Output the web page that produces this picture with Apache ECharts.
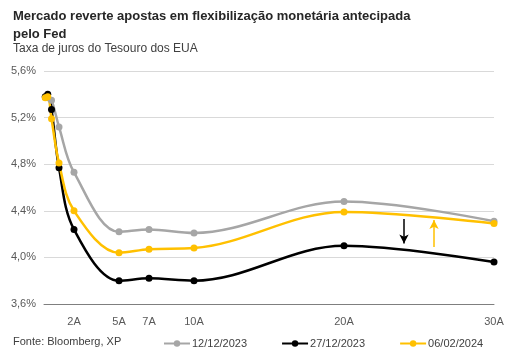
<!DOCTYPE html>
<html><head><meta charset="utf-8">
<script src="https://cdn.jsdelivr.net/npm/echarts@6/dist/echarts.min.js"></script>
<style>html,body{margin:0;padding:0;background:#fff}#c{width:514px;height:355px}</style>
</head><body><div id="c"></div>
<script>
// maturities in years
const maturities = [1/12, 0.25, 0.5, 1, 2, 5, 7, 10, 20, 30];
const s1212 = [5.38, 5.37, 5.35, 5.12, 4.73, 4.22, 4.24, 4.21, 4.48, 4.31];
const s2712 = [5.38, 5.40, 5.27, 4.77, 4.24, 3.80, 3.82, 3.80, 4.10, 3.96];
const s0602 = [5.37, 5.38, 5.19, 4.81, 4.40, 4.04, 4.07, 4.08, 4.39, 4.29];
const xTicks = [2, 5, 7, 10, 20, 30];
const seriesNames = ['12/12/2023', '27/12/2023', '06/02/2024'];
const arrowDown = {x: 24, from: 4.33, to: 4.12};
const arrowUp = {x: 26, from: 4.09, to: 4.32};

const zip = a => maturities.map((m, i) => [m, a[i]]);
const font = 'Arial, "Liberation Sans", sans-serif';
const chart = echarts.init(document.getElementById('c'));
function mk(name, data, color, arrow) {
  const s = {
    name, type: 'line', data: zip(data), smooth: 0.35,
    symbol: 'circle', symbolSize: 7,
    lineStyle: {color, width: 2.5}, itemStyle: {color},
    z: 3
  };
  if (arrow) {
    s.markLine = {
      silent: true, symbol: ['none', 'arrow'], symbolSize: [7, 9],
      label: {show: false},
      lineStyle: {color, width: 1.5, type: 'solid'},
      data: [[{coord: [arrow.x, arrow.from]}, {coord: [arrow.x, arrow.to]}]]
    };
  }
  return s;
}
chart.setOption({
  animation: false,
  textStyle: {fontFamily: font},
  title: [
    {text: 'Mercado reverte apostas em flexibilização monetária antecipada\npelo Fed', left: 8, top: 2,
     textStyle: {fontSize: 13, fontWeight: 'bold', color: '#262626', lineHeight: 18, fontFamily: font}},
    {text: 'Taxa de juros do Tesouro dos EUA', left: 8, top: 38,
     textStyle: {fontSize: 12, fontWeight: 'normal', color: '#404040', fontFamily: font}},
    {text: 'Fonte: Bloomberg, XP', left: 8, top: 331,
     textStyle: {fontSize: 11, fontWeight: 'normal', color: '#404040', fontFamily: font}}
  ],
  legend: {
    data: seriesNames, left: 158, top: 333, itemGap: 34, itemWidth: 26, itemHeight: 8,
    textStyle: {fontSize: 11, color: '#404040', fontFamily: font, padding: [0,0,0,-3]}
  },
  grid: {left: 44, right: 20, top: 71, bottom: 51},
  xAxis: {
    type: 'value', min: 0, max: 30,
    axisLine: {show: true, lineStyle: {color: '#7f7f7f', width: 1}},
    axisTick: {show: false},
    splitLine: {show: false},
    axisLabel: {customValues: xTicks, formatter: v => v + 'A', fontSize: 11, color: '#595959', margin: 12}
  },
  yAxis: {
    type: 'value', min: 3.6, max: 5.6, interval: 0.4,
    axisLine: {show: false}, axisTick: {show: false},
    splitLine: {lineStyle: {color: '#d9d9d9', width: 1}},
    axisLabel: {formatter: v => v.toFixed(1).replace('.', ',') + '%', fontSize: 11, color: '#595959', margin: 8}
  },
  series: [
    mk(seriesNames[0], s1212, '#a6a6a6'),
    mk(seriesNames[1], s2712, '#000000', arrowDown),
    mk(seriesNames[2], s0602, '#ffc000', arrowUp)
  ]
});
</script></body></html>
